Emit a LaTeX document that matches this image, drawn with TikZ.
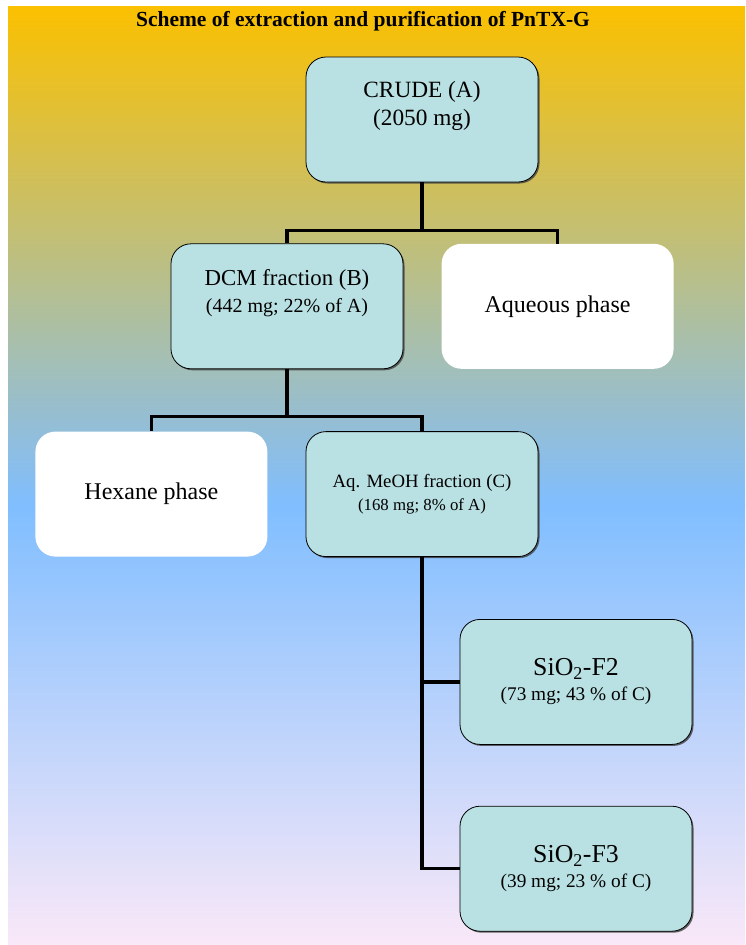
\documentclass[tikz,border=0pt]{standalone}
\usepackage{fontspec}
\setmainfont{Liberation Serif}
\usetikzlibrary{positioning,shadows}

\definecolor{boxcyan}{RGB}{185,224,226}
\definecolor{topgold}{RGB}{251,192,0}
\definecolor{midblue}{RGB}{128,190,255}
\definecolor{lowpink}{RGB}{249,232,248}

\begin{document}
\begin{tikzpicture}[
  x=1pt, y=-1pt,
  node distance=61pt and 38pt,
  box/.style={draw, line width=0.8pt, fill=boxcyan, rounded corners=20pt, align=center,
    minimum width=232pt, minimum height=125pt, inner sep=2pt,
    drop shadow={shadow xshift=1.5pt, shadow yshift=-1.5pt, fill=black!75, opacity=0.8}},
  phase/.style={fill=white, rounded corners=20pt, minimum width=232pt, minimum height=125pt,
    font=\fontsize{24}{28}\selectfont},
  link/.style={line width=3.3pt}
]
% page and background
\useasboundingbox (0,0) rectangle (745,945);
\shade[top color=topgold, bottom color=midblue] (8,6) rectangle (745,505.5);
\shade[top color=midblue, bottom color=lowpink] (8,505) rectangle (745,945);

\node[font=\fontsize{21.5}{24}\selectfont\bfseries, anchor=base] (title) at (363,26)
  {Scheme of extraction and purification of PnTX-G};

\node[box, font=\fontsize{23.3}{28}\selectfont] (crude) at (422,119.5)
  {CRUDE (A)\\(2050 mg)\\[4pt]\mbox{}};
\node[box, below=61pt of crude, xshift=-135pt, font=\fontsize{22.8}{27}\selectfont] (dcm)
  {DCM fraction (B)\\{\fontsize{20}{24}\selectfont(442 mg; 22\% of A)}\\[3pt]\mbox{}};
\node[phase, right=of dcm] (aq) {Aqueous phase};
\node[box, below=62pt of dcm, xshift=135pt, font=\fontsize{18.75}{23}\selectfont] (meoh)
  {Aq. MeOH fraction (C)\\{\fontsize{16.8}{20}\selectfont(168 mg; 8\% of A)}};
\node[phase, left=of meoh] (hex) {Hexane phase};
\node[box, below=62pt of meoh, xshift=154pt, font=\fontsize{25.8}{25}\selectfont] (f2)
  {SiO\textsubscript{2}-F2\\{\fontsize{19.3}{23}\selectfont(73 mg; 43 \% of C)}};
\node[box, below=of f2, font=\fontsize{25.8}{25}\selectfont] (f3)
  {SiO\textsubscript{2}-F3\\{\fontsize{19.3}{23}\selectfont(39 mg; 23 \% of C)}};

% tree lines
\draw[link] (crude.south) -- ++(0,48) -| (dcm.north);
\draw[link] (crude.south) -- ++(0,48) -| (aq.north);
\draw[link] (dcm.south) -- ++(0,47) -| (hex.north);
\draw[link] (dcm.south) -- ++(0,47) -| (meoh.north);
\draw[link] (meoh.south) |- (f2.west);
\draw[link] (meoh.south) |- (f3.west);
\end{tikzpicture}
\end{document}
